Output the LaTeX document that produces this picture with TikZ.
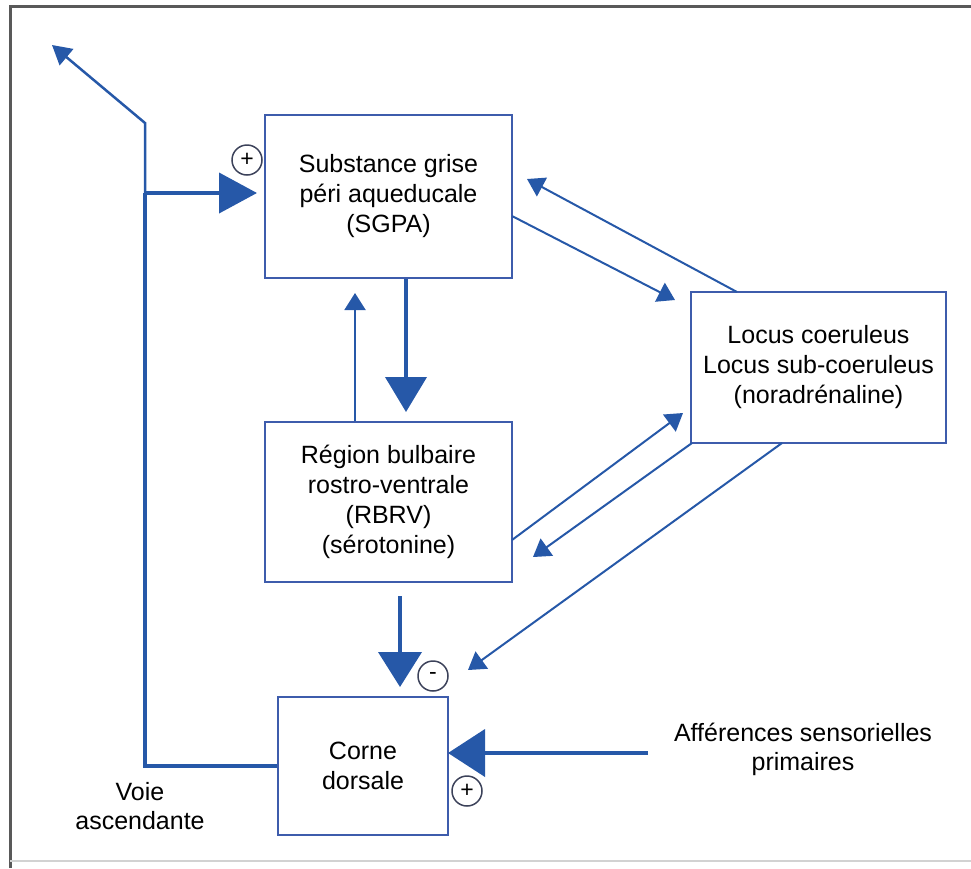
\documentclass[tikz,border=0pt]{standalone}
\usepackage{fontspec}
\setmainfont{Liberation Sans}
\usetikzlibrary{arrows.meta}
\definecolor{arrowblue}{RGB}{38,88,168}
\definecolor{boxblue}{RGB}{62,92,172}
\definecolor{circgray}{RGB}{60,66,90}
\tikzset{
  boxnode/.style={draw=boxblue, line width=2pt, fill=white, inner sep=0pt, align=center, font=\fontsize{25}{30}\selectfont},
  lbl/.style={align=center, inner sep=0pt, font=\fontsize{25}{29}\selectfont},
  thinarrow/.style={draw=arrowblue, line width=2pt, -{Triangle[length=17pt,width=21pt]}},
  thickarrow/.style={draw=arrowblue, line width=4pt, -{Triangle[length=36pt,width=42pt]}},
  thickline/.style={draw=arrowblue, line width=4pt},
  sign/.style={circle, draw=circgray, line width=1.5pt, fill=white, minimum size=30pt, inner sep=0pt, font=\fontsize{23}{23}\selectfont}
}
\begin{document}
\begin{tikzpicture}[x=1pt,y=-1pt]
\useasboundingbox (0,0) rectangle (971,868);
% frame
\draw[gray!70!black, line width=3pt] (10,868) -- (10,6) -- (971,6);
\draw[gray!35, line width=1.5pt] (10,861) -- (971,861);

% boxes
\node[boxnode, minimum width=247pt, minimum height=163pt] (sgpa) at (388.5,196.5) {Substance grise\\péri aqueducale\\(SGPA)};
\node[boxnode, minimum width=247pt, minimum height=160pt] (rbrv) at (388.5,502) {Région bulbaire\\rostro-ventrale\\(RBRV)\\(sérotonine)};
\node[boxnode, minimum width=255pt, minimum height=151pt] (lc) at (818.5,367.5) {Locus coeruleus\\Locus sub-coeruleus\\(noradrénaline)};
\node[boxnode, minimum width=170pt, minimum height=138pt] (cd) at (363,766) {Corne\\dorsale};

% labels
\node[lbl] (voie) at (140,806) {Voie\\ascendante};
\node[lbl] (aff) at (803,749) {Afférences sensorielles\\primaires};

% coordinates
\coordinate (jn) at (145,193);
\coordinate (bend) at (145,123);
\coordinate (upfree) at (52,45);
\coordinate (lowcorner) at (145,766);
\coordinate (sgpaIn) at (257,193);
\coordinate (sgpaOutR) at (512,216);
\coordinate (lcInL) at (675,300);
\coordinate (lcOutT) at (737,292);
\coordinate (sgpaInR) at (527,179);
\coordinate (rbrvOutR) at (512,540);
\coordinate (lcInB) at (683,413);
\coordinate (lcOutBL) at (692,443);
\coordinate (rbrvInR) at (533,557);
\coordinate (lcOutB) at (782,443);
\coordinate (cdInN) at (468,670);
\coordinate (affStart) at (648,753);
\coordinate (cdE) at (448,753);

% left loop (ascending path)
\draw[thickline] (cd.west |- lowcorner) -- (lowcorner) -- (jn);
\draw[thickarrow, -{Triangle[length=38pt,width=40pt]}] (jn) -- (sgpaIn);
\draw[thinarrow, line width=2.5pt, -{Triangle[length=19pt,width=21pt]}] (jn) -- (bend) -- (upfree);

% SGPA <-> RBRV
\draw[thickarrow, -{Triangle[length=35pt,width=41pt]}] (sgpa.south -| 406,0) -- (406,412);
\draw[thinarrow] (rbrv.north -| 355,0) -- (355,293);

% SGPA <-> LC
\draw[thinarrow] (sgpaOutR) -- (lcInL);
\draw[thinarrow] (lcOutT) -- (sgpaInR);

% RBRV <-> LC
\draw[thinarrow] (rbrvOutR) -- (lcInB);
\draw[thinarrow] (lcOutBL) -- (rbrvInR);

% LC -> CD
\draw[thinarrow] (lcOutB) -- (cdInN);

% RBRV -> CD
\draw[thickarrow, -{Triangle[length=35pt,width=43pt]}] (rbrv.south -| 400,0) ++(0,13) -- (400,687);

% afferent
\draw[thickarrow, -{Triangle[length=37pt,width=47pt]}] (affStart) -- (cdE);

% signs
\node[sign] (s1) at (247,160) {+};
\node[sign] (s2) at (433,676) {-};
\node[sign] (s3) at (467,791) {+};
\end{tikzpicture}
\end{document}
